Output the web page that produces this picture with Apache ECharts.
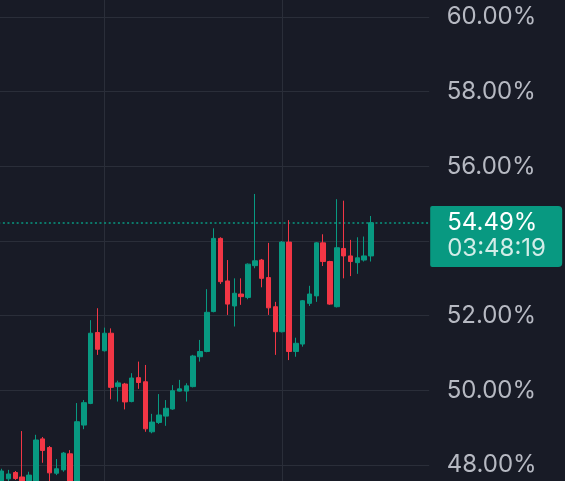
<!DOCTYPE html>
<html><head><meta charset="utf-8">
<script src="https://cdn.jsdelivr.net/npm/echarts@6.0.0/dist/echarts.min.js"></script>
<style>html,body{margin:0;padding:0;background:#181b26;}#c{width:565px;height:481px;}</style>
</head><body><div id="c"></div>
<script>
// ---- data ----
const categories = Array.from({length: 63}, (_, i) => 'bar' + i); // 55 candles + empty space on the right
const opens  = [47.45,47.63,47.80,47.68,47.50,47.40,48.70,48.47,47.78,47.87,48.30,47.45,49.07,49.65,51.55,51.06,51.53,50.10,50.17,49.70,50.34,50.23,48.89,49.14,49.31,49.50,49.98,49.98,50.10,50.90,51.04,52.11,54.07,52.93,52.26,52.58,52.49,53.34,53.49,53.02,52.24,51.57,53.97,51.04,51.24,52.33,52.53,53.95,53.45,52.24,53.80,53.60,53.42,53.49,53.60];
const closes = [47.84,47.76,47.64,47.45,47.73,48.67,48.39,47.79,47.90,48.32,47.50,49.16,49.67,51.53,51.10,51.53,50.08,50.20,49.69,50.33,50.21,48.97,49.15,49.34,49.52,49.99,50.04,50.12,50.92,51.04,52.09,54.07,52.91,52.31,52.60,52.51,53.38,53.47,53.00,52.21,51.57,53.97,51.04,51.26,52.40,52.58,53.95,53.45,52.31,53.82,53.60,53.45,53.55,53.60,54.49];
const lows   = [47.35,47.57,47.60,47.35,47.40,47.30,48.06,47.50,47.73,47.82,47.40,47.35,48.96,49.63,50.95,51.04,49.76,49.70,49.49,49.68,50.04,48.89,48.85,49.10,49.05,49.48,49.97,49.70,50.08,50.77,51.02,52.09,52.85,52.02,51.71,52.29,52.44,53.27,52.76,52.02,50.95,51.55,50.81,50.90,51.17,52.26,52.37,53.33,52.29,52.22,53.00,53.06,53.12,53.45,53.45];
const highs  = [47.90,47.87,47.84,48.91,47.82,48.81,48.75,48.51,48.16,48.35,48.40,49.66,49.74,51.88,52.20,51.68,51.66,50.26,50.20,50.46,50.77,50.68,49.37,49.90,49.74,50.14,50.28,50.19,50.95,51.35,52.71,54.34,54.10,53.49,53.00,53.00,53.40,55.26,53.52,53.95,52.37,54.00,54.56,51.41,52.42,52.80,53.97,54.18,53.47,55.12,55.08,54.03,54.10,54.12,54.67];
const yMin = 46, yMax = 62, yStep = 2;
const lastPrice = 54.49;
const countdown = '03:48:19';
const verticalGridBars = [15, 41];

// ---- chart ----
const UP = '#089981', DOWN = '#f23645', GRID = '#2a2e39', TEXT = '#b6b9c2';
const FONT = 'Inter, Roboto, sans-serif';
const candleData = opens.map((o, i) => [o, closes[i], lows[i], highs[i]]);

const chart = echarts.init(document.getElementById('c'), null, {renderer: 'canvas'});
chart.setOption({
  backgroundColor: '#181b26',
  animation: false,
  grid: {left: -1.72, right: 135.8, top: -57.7, bottom: -58.7, containLabel: false, outerBoundsMode: 'none'},
  xAxis: {
    type: 'category', data: categories, boundaryGap: true,
    axisLine: {show: false}, axisTick: {show: false}, axisLabel: {show: false}, splitLine: {show: false}
  },
  yAxis: {
    type: 'value', position: 'right', min: yMin, max: yMax, interval: yStep, scale: true,
    axisLine: {show: false}, axisTick: {show: false},
    axisLabel: {color: TEXT, fontSize: 24, fontFamily: FONT, margin: 17.5,
      formatter: v => v.toFixed(2) + '%'},
    splitLine: {show: true, lineStyle: {color: GRID, width: 1}}
  },
  series: [{
    type: 'candlestick',
    data: candleData,
    barWidth: 5,
    z: 2,
    itemStyle: {color: UP, color0: DOWN, borderColor: UP, borderColor0: DOWN, borderWidth: 1},
    markLine: {
      z: 1,
      silent: true,
      symbol: ['none', 'none'],
      animation: false,
      data: [
        ...verticalGridBars.map(b => ({xAxis: b, lineStyle: {color: GRID, width: 1, type: 'solid'}, label: {show: false}})),
        {
          yAxis: lastPrice,
          lineStyle: {color: UP, width: 1.6, type: [2, 2.6]},
          label: {
            show: true, position: 'end', distance: 1,
            formatter: '{s| }\n{a|' + lastPrice.toFixed(2) + '%}\n{b|' + countdown + '}\n{c| }',
            rich: {
              s: {height: 27.8, lineHeight: 27.8, fontSize: 10},
              a: {color: '#ffffff', fontSize: 24, fontFamily: FONT, backgroundColor: UP,
                  width: 115, height: 33, lineHeight: 33, padding: [0, 0, 0, 17], borderRadius: [2, 4, 0, 0], align: 'left'},
              b: {color: 'rgba(255,255,255,0.82)', fontSize: 24, fontFamily: FONT, backgroundColor: UP,
                  width: 115, height: 20, lineHeight: 20, padding: [0, 0, 0, 17], align: 'left'},
              c: {fontSize: 8, backgroundColor: UP, width: 115, height: 8, lineHeight: 8,
                  padding: [0, 0, 0, 17], borderRadius: [0, 0, 4, 2], align: 'left'}
            }
          }
        }
      ]
    }
  }]
});
</script>
</body></html>
